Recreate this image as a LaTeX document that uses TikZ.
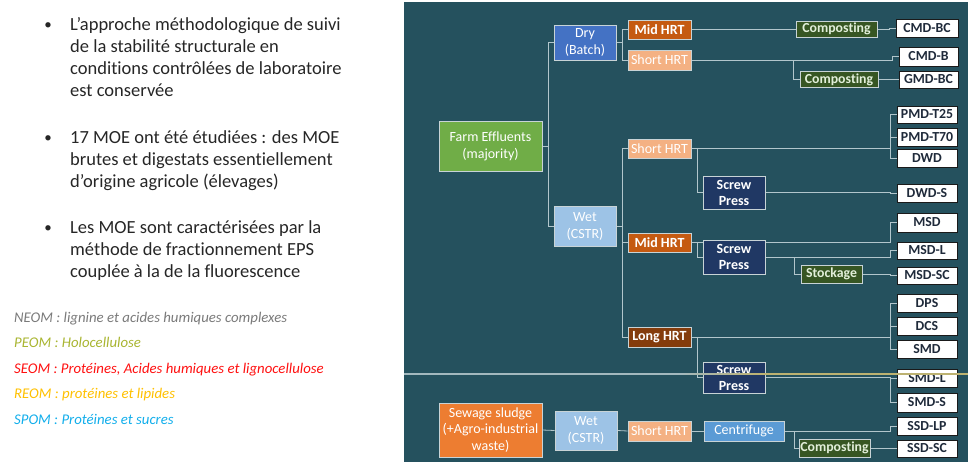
\documentclass[tikz,border=0pt]{standalone}
\usepackage{fontspec}
\setmainfont{Carlito}[Ligatures=NoCommon]
\usetikzlibrary{calc}

\definecolor{panelbg}{HTML}{25515E}
\definecolor{wirecol}{HTML}{B2C6CC}
\definecolor{boxline}{HTML}{C8D3D6}
\definecolor{leafline}{HTML}{1A1A1A}
\definecolor{leaftext}{HTML}{1F2A3A}
\definecolor{cgreen}{HTML}{70AD47}
\definecolor{cblue}{HTML}{4472C4}
\definecolor{cwet}{HTML}{9DC3E6}
\definecolor{cmid}{HTML}{C55A11}
\definecolor{cshort}{HTML}{F4B183}
\definecolor{clong}{HTML}{843C0C}
\definecolor{csew}{HTML}{ED7D31}
\definecolor{cpress}{HTML}{203864}
\definecolor{ccentri}{HTML}{5B9BD5}
\definecolor{cproc}{HTML}{375623}
\definecolor{cproctext}{HTML}{E2EFDA}
\definecolor{bodytext}{HTML}{262626}
\definecolor{kneom}{HTML}{7A7A7A}
\definecolor{kpeom}{HTML}{A9B531}
\definecolor{kseom}{HTML}{FF1010}
\definecolor{kreom}{HTML}{FFC000}
\definecolor{kspom}{HTML}{12AEEB}
\definecolor{sepleft}{HTML}{A3B8BE}
\definecolor{sepright}{HTML}{BDB271}

\pgfdeclarelayer{back}
\pgfdeclarelayer{wires}
\pgfdeclarelayer{front}
\pgfsetlayers{back,wires,main,front}

\begin{document}
\begin{tikzpicture}[x=1pt,y=-1pt,
  sized/.style 2 args={minimum width=#1pt, minimum height=#2pt},
  box/.style={draw=boxline, line width=0.7pt, inner sep=0pt, align=center,
    text=white, font=\fontsize{14}{17}\selectfont},
  boldbox/.style={box, font=\bfseries\fontsize{14}{16}\selectfont},
  proc/.style={draw=boxline, fill=cproc, line width=0.7pt, inner sep=0pt,
    text=cproctext, font=\bfseries\fontsize{13.8}{16}\selectfont},
  leaf/.style={draw=leafline, fill=white, line width=0.9pt, inner sep=0pt,
    minimum width=60pt, minimum height=18pt, text=leaftext,
    font=\bfseries\fontsize{13.8}{16}\selectfont},
  wire/.style={draw=wirecol, line width=0.8pt},
  bodyline/.style={anchor=base west, inner sep=0pt, text=bodytext,
    font=\fontsize{18.5}{22}\selectfont},
  bullet/.style={anchor=base, inner sep=0pt, text=bodytext,
    font=\fontsize{15}{22}\selectfont},
  keyline/.style={anchor=base west, inner sep=0pt,
    font=\itshape\fontsize{14.8}{17}\selectfont}]

\useasboundingbox (0,0) rectangle (978,466);

% dark panel behind the process tree
\begin{pgfonlayer}{back}
  \fill[panelbg] (404,2) rectangle (968,462);
\end{pgfonlayer}

% ---------- left column: bullet points ----------
\node[bullet] (b1) at (48,29) {•};
\node[bodyline] (p1a) at (70,30) {L’approche méthodologique de suivi};
\node[bodyline] (p1b) at (70,52) {de la stabilité structurale en};
\node[bodyline] (p1c) at (70,74) {conditions contrôlées de laboratoire};
\node[bodyline] (p1d) at (70,96) {est conservée};

\node[bullet] (b2) at (48,142) {•};
\node[bodyline] (p2a) at (70,143) {17 MOE ont été étudiées : des MOE};
\node[bodyline] (p2b) at (70,165) {brutes et digestats essentiellement};
\node[bodyline] (p2c) at (70,187) {d’origine agricole (élevages)};

\node[bullet] (b3) at (48,232) {•};
\node[bodyline] (p3a) at (70,233) {Les MOE sont caractérisées par la};
\node[bodyline] (p3b) at (70,255) {méthode de fractionnement EPS};
\node[bodyline] (p3c) at (70,277) {couplée à la de la fluorescence};

% ---------- left column: fraction key ----------
\node[keyline, text=kneom] (kneom) at (14,322) {NEOM : lignine et acides humiques complexes};
\node[keyline, text=kpeom] (kpeom) at (14,347.5) {PEOM : Holocellulose};
\node[keyline, text=kseom] (kseom) at (14,373) {SEOM : Protéines, Acides humiques et lignocellulose};
\node[keyline, text=kreom] (kreom) at (14,398.5) {REOM : protéines et lipides};
\node[keyline, text=kspom] (kspom) at (14,424) {SPOM : Protéines et sucres};

% ---------- tree: sources and reactors ----------
\node[box, fill=cgreen, sized={103}{50}] (fe) at (490.5,146) {Farm Effluents\\(majority)};
\node[box, fill=cblue, sized={62}{35}] (dry) at (585,42.5) {Dry\\(Batch)};
\node[box, fill=cwet, sized={62}{40}] (wet) at (585,226) {Wet\\(CSTR)};
\node[box, fill=csew, sized={103}{54}, font=\fontsize{14}{16.5}\selectfont] (sew) at (490.5,430) {Sewage sludge\\(+Agro-industrial\\waste)};
\node[box, fill=cwet, sized={62}{39}] (wetC) at (586,430.5) {Wet\\(CSTR)};

% retention times
\node[boldbox, fill=cmid, sized={63}{19}] (midA) at (659.5,29.5) {Mid HRT};
\node[box, fill=cshort, sized={63}{20}] (shortA) at (659.5,60) {Short HRT};
\node[box, fill=cshort, sized={63}{19}] (shortB) at (659.5,148.5) {Short HRT};
\node[boldbox, fill=cmid, sized={63}{19}] (midB) at (659.5,242.5) {Mid HRT};
\node[boldbox, fill=clong, sized={63}{20}] (longB) at (659.5,337) {Long HRT};
\node[box, fill=cshort, sized={63}{20}] (shortC) at (659.5,431) {Short HRT};

% separation and post-treatment
\node[boldbox, fill=cpress, sized={62}{33}] (sp1) at (734,192.5) {Screw\\Press};
\node[boldbox, fill=cpress, sized={62}{34}] (sp2) at (734,257) {Screw\\Press};
\node[boldbox, fill=cpress, sized={62}{31}] (sp3) at (734,377.5) {Screw\\Press};
\node[box, fill=ccentri, sized={80}{20}] (centri) at (744,431) {Centrifuge};
\node[proc, sized={81}{16}] (compA) at (836.5,29) {Composting};
\node[proc, sized={78}{16}] (compB) at (839,79.5) {Composting};
\node[proc, sized={61}{18}] (stock) at (831.5,274) {Stockage};
\node[proc, sized={71}{18}] (compC) at (834.5,448) {Composting};

% resulting materials
\node[leaf, minimum width=62pt] (cmdbc) at (927,28) {CMD-BC};
\node[leaf, minimum width=59pt, minimum height=19pt] (cmdb) at (928.5,56.5) {CMD-B};
\node[leaf, minimum width=59pt, minimum height=17pt] (gmdbc) at (928.5,79.5) {GMD-BC};
\node[leaf, minimum height=17pt] (pmd25) at (927,114.5) {PMD-T25};
\node[leaf] (pmd70) at (927,137) {PMD-T70};
\node[leaf] (dwd) at (927,158) {DWD};
\node[leaf] (dwds) at (927,193) {DWD-S};
\node[leaf, minimum height=19pt] (msd) at (927,222.5) {MSD};
\node[leaf, minimum height=17pt] (msdl) at (927,250.5) {MSD-L};
\node[leaf, minimum height=17pt] (msdsc) at (927,275.5) {MSD-SC};
\node[leaf] (dps) at (927,303) {DPS};
\node[leaf] (dcs) at (927,326) {DCS};
\node[leaf] (smd) at (927,349) {SMD};
\node[leaf] (smdl) at (927,378) {SMD-L};
\node[leaf, minimum height=19pt] (smds) at (927,402.5) {SMD-S};
\node[leaf] (ssdlp) at (927,426) {SSD-LP};
\node[leaf, minimum height=17pt] (ssdsc) at (927,448.5) {SSD-SC};

% branch points of the side streams
\coordinate (jB) at ([xshift=-6pt]compB.west);
\coordinate (jS) at ([xshift=-6pt]stock.west);
\coordinate (jC) at ([xshift=-4pt]compC.west);

% ---------- connectors ----------
\begin{pgfonlayer}{wires}
  \draw[wire] (fe.east) -- ++(6,0) |- (dry.west);
  \draw[wire] (fe.east) -- ++(6,0) |- (wet.west);
  \draw[wire] (dry.east) -- ++(6,0) |- (midA.west);
  \draw[wire] (dry.east) -- ++(6,0) |- (shortA.west);
  \foreach \t in {shortB,midB,longB}
    \draw[wire] (wet.east) -- ++(6,0) |- (\t.west);

  \draw[wire] (midA.east) -| ([xshift=-6pt]compA.west) -- (compA.west);
  \draw[wire] (compA.east) -| ([xshift=-6pt]cmdbc.west) -- (cmdbc.west);
  \draw[wire] (shortA.east) -| ([xshift=-6pt]cmdb.west) -- (cmdb.west);
  \draw[wire] (jB |- shortA.east) |- (compB.west);
  \draw[wire] (compB.east) -| ([xshift=-6pt]gmdbc.west) -- (gmdbc.west);

  \foreach \t in {pmd25,pmd70,dwd}
    \draw[wire] (shortB.east) -| ([xshift=-6pt]\t.west) -- (\t.west);
  \draw[wire] ([xshift=6pt]shortB.east) |- (sp1.west);
  \draw[wire] (sp1.east) -| ([xshift=-6pt]dwds.west) -- (dwds.west);

  \draw[wire] (midB.east) -| ([xshift=-6pt]msd.west) -- (msd.west);
  \draw[wire] ([xshift=6pt]midB.east) |- (sp2.west);
  \draw[wire] (sp2.east) -| ([xshift=-6pt]msdl.west) -- (msdl.west);
  \draw[wire] (jS |- sp2.east) |- (stock.west);
  \draw[wire] (stock.east) -| ([xshift=-6pt]msdsc.west) -- (msdsc.west);

  \foreach \t in {dps,dcs,smd}
    \draw[wire] (longB.east) -| ([xshift=-6pt]\t.west) -- (\t.west);
  \draw[wire] ([xshift=6pt]longB.east) |- (sp3.west);
  \foreach \t in {smdl,smds}
    \draw[wire] (sp3.east) -| ([xshift=-6pt]\t.west) -- (\t.west);

  \draw[wire] (sew.east) -- (wetC.west);
  \draw[wire] (wetC.east) -- (shortC.west);
  \draw[wire] (shortC.east) -- (centri.west);
  \draw[wire] (centri.east) -| ([xshift=-6pt]ssdlp.west) -- (ssdlp.west);
  \draw[wire] (jC |- centri.east) |- (compC.west);
  \draw[wire] (compC.east) -| ([xshift=-6pt]ssdsc.west) -- (ssdsc.west);
\end{pgfonlayer}

% divider between farm effluents and sewage sludge: grey on the left, olive on the right
\begin{pgfonlayer}{front}
  \fill[sepleft] (404,373.2) rectangle (680,374.8);
  \shade[left color=sepleft, right color=sepright] (680,373.2) rectangle (760,374.8);
  \fill[sepright] (760,373.2) rectangle (968,374.8);
\end{pgfonlayer}
\end{tikzpicture}
\end{document}
